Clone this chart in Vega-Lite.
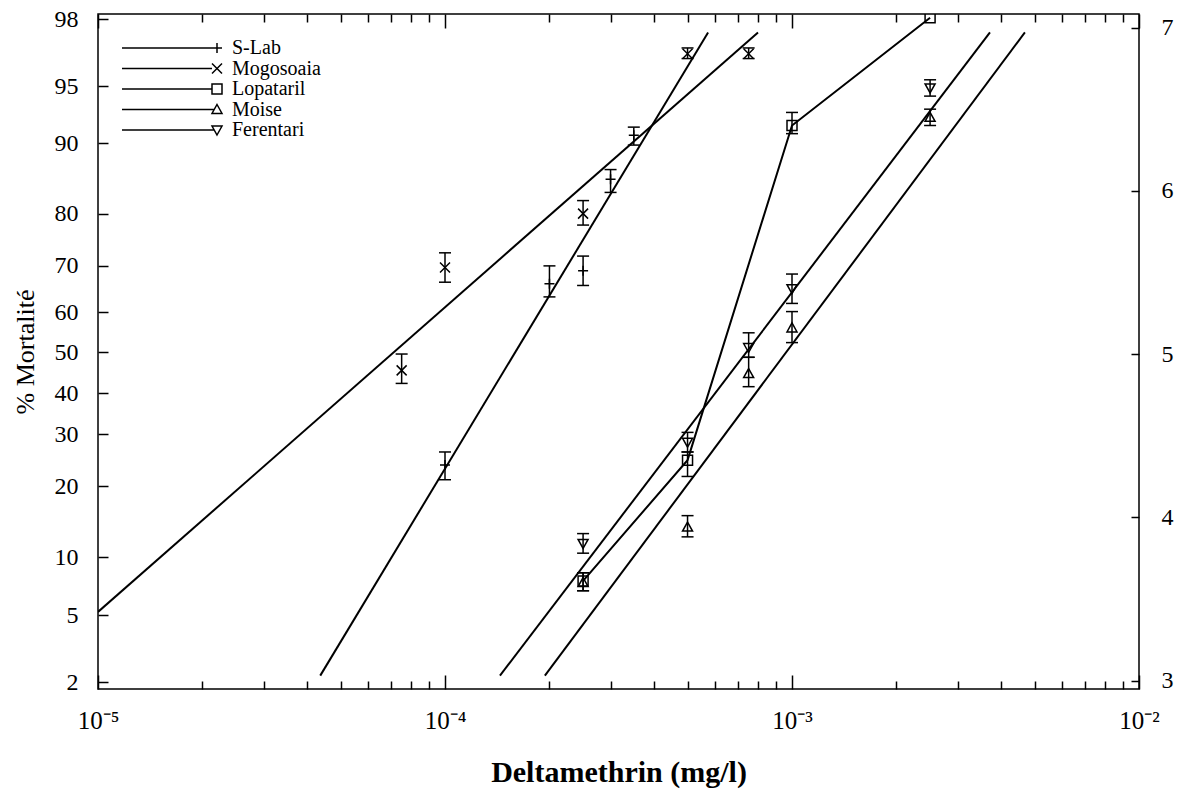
{
  "$schema": "https://vega.github.io/schema/vega-lite/v6.json",
  "width": 1041,
  "height": 675,
  "autosize": {"type": "none"},
  "padding": {"left": 98, "top": 14, "right": 39, "bottom": 103},
  "background": "white",
  "config": {
    "view": {"stroke": "black", "strokeWidth": 1.5},
    "font": "Liberation Serif",
    "axis": {"grid": false, "domain": false, "tickColor": "black", "tickWidth": 1.5, "labelColor": "black", "titleColor": "black", "labelFont": "Liberation Serif", "titleFont": "Liberation Serif"}
  },
  "datasets": {
    "pts": [
      {"series": "S-Lab", "conc": 0.0001, "probit": 4.32, "lo": 4.23, "hi": 4.40},
      {"series": "S-Lab", "conc": 0.0002, "probit": 5.43, "lo": 5.35, "hi": 5.54},
      {"series": "S-Lab", "conc": 0.00025, "probit": 5.51, "lo": 5.42, "hi": 5.60},
      {"series": "S-Lab", "conc": 0.0003, "probit": 6.07, "lo": 5.99, "hi": 6.13},
      {"series": "S-Lab", "conc": 0.00035, "probit": 6.34, "lo": 6.28, "hi": 6.39},
      {"series": "Mogosoaia", "conc": 0.000075, "probit": 4.90, "lo": 4.82, "hi": 5.00},
      {"series": "Mogosoaia", "conc": 0.0001, "probit": 5.53, "lo": 5.44, "hi": 5.62},
      {"series": "Mogosoaia", "conc": 0.00025, "probit": 5.86, "lo": 5.79, "hi": 5.94},
      {"series": "Mogosoaia", "conc": 0.0005, "probit": 6.84, "lo": 6.81, "hi": 6.875},
      {"series": "Mogosoaia", "conc": 0.00075, "probit": 6.84, "lo": 6.81, "hi": 6.875},
      {"series": "Lopataril", "conc": 0.00025, "probit": 3.61, "lo": 3.55, "hi": 3.66},
      {"series": "Lopataril", "conc": 0.0005, "probit": 4.35, "lo": 4.25, "hi": 4.40},
      {"series": "Lopataril", "conc": 0.001, "probit": 6.40, "lo": 6.35, "hi": 6.48},
      {"series": "Lopataril", "conc": 0.0025, "probit": 7.06, "lo": null, "hi": null},
      {"series": "Moise", "conc": 0.00025, "probit": 3.60, "lo": 3.55, "hi": 3.66},
      {"series": "Moise", "conc": 0.0005, "probit": 3.94, "lo": 3.88, "hi": 4.01},
      {"series": "Moise", "conc": 0.00075, "probit": 4.88, "lo": 4.80, "hi": 4.98},
      {"series": "Moise", "conc": 0.001, "probit": 5.16, "lo": 5.07, "hi": 5.26},
      {"series": "Moise", "conc": 0.0025, "probit": 6.45, "lo": 6.40, "hi": 6.50},
      {"series": "Ferentari", "conc": 0.00025, "probit": 3.84, "lo": 3.78, "hi": 3.90},
      {"series": "Ferentari", "conc": 0.0005, "probit": 4.46, "lo": 4.40, "hi": 4.52},
      {"series": "Ferentari", "conc": 0.00075, "probit": 5.04, "lo": 4.98, "hi": 5.13},
      {"series": "Ferentari", "conc": 0.001, "probit": 5.40, "lo": 5.31, "hi": 5.49},
      {"series": "Ferentari", "conc": 0.0025, "probit": 6.63, "lo": 6.58, "hi": 6.68}
    ],
    "lines": [
      {"series": "S-Lab", "conc": 0.0000437, "probit": 3.03},
      {"series": "S-Lab", "conc": 0.000573, "probit": 6.97},
      {"series": "Mogosoaia", "conc": 0.00001, "probit": 3.42},
      {"series": "Mogosoaia", "conc": 0.000798, "probit": 6.97},
      {"series": "Ferentari", "conc": 0.000144, "probit": 3.03},
      {"series": "Ferentari", "conc": 0.00372, "probit": 6.97},
      {"series": "Moise", "conc": 0.000194, "probit": 3.03},
      {"series": "Moise", "conc": 0.00469, "probit": 6.97},
      {"series": "Lopataril", "conc": 0.00025, "probit": 3.61},
      {"series": "Lopataril", "conc": 0.0005, "probit": 4.35},
      {"series": "Lopataril", "conc": 0.001, "probit": 6.40},
      {"series": "Lopataril", "conc": 0.0025, "probit": 7.06}
    ]
  },
  "resolve": {"axis": {"x": "independent", "y": "independent"}, "scale": {"shape": "independent"}},
  "layer": [
    {
      "data": {"name": "lines"},
      "mark": {"type": "line", "color": "black", "strokeWidth": 2, "clip": true},
      "encoding": {
        "x": {"field": "conc", "type": "quantitative",
          "scale": {"type": "log", "domain": [0.00001, 0.01], "nice": false},
          "axis": {"orient": "bottom", "values": [0.00001, 0.0001, 0.001, 0.01], "tickSize": -14, "labelPadding": 33,
            "labelExpr": "'10' + (datum.value == 0.00001 ? '⁻⁵' : datum.value == 0.0001 ? '⁻⁴' : datum.value == 0.001 ? '⁻³' : '⁻²')",
            "labelFontSize": 25, "labelFlush": false, "labelOverlap": false,
            "title": "Deltamethrin (mg/l)", "titleFontSize": 30, "titleFontWeight": "bold", "titlePadding": 24}},
        "y": {"field": "probit", "type": "quantitative",
          "scale": {"domain": [2.948, 7.083], "nice": false, "zero": false},
          "axis": {"orient": "left", "values": [2.99, 3.40, 3.756, 4.19, 4.51, 4.76, 5.01, 5.257, 5.54, 5.858, 6.29, 6.64, 7.05],
            "tickSize": -10, "labelPadding": 30, "labelFontSize": 24, "labelOverlap": false, "labelFlush": false,
            "labelExpr": "[2,5,10,20,30,40,50,60,70,80,90,95,98][indexof([2.99,3.40,3.756,4.19,4.51,4.76,5.01,5.257,5.54,5.858,6.29,6.64,7.05], datum.value)]",
            "title": "% Mortalité", "titleFontSize": 26, "titleFontWeight": "normal", "titlePadding": 16}},
        "detail": {"field": "series"},
        "order": {"field": "conc", "type": "quantitative"}
      }
    },
    {
      "data": {"name": "pts"},
      "mark": {"type": "rule", "color": "black", "strokeWidth": 1.5},
      "encoding": {
        "x": {"field": "conc", "type": "quantitative",
          "axis": {"orient": "bottom", "values": [0.00002, 0.00003, 0.00004, 0.00005, 0.00006, 0.00007, 0.00008, 0.00009, 0.0002, 0.0003, 0.0004, 0.0005, 0.0006, 0.0007, 0.0008, 0.0009, 0.002, 0.003, 0.004, 0.005, 0.006, 0.007, 0.008, 0.009],
            "tickSize": -8, "labels": false, "title": null}},
        "y": {"field": "lo", "type": "quantitative",
          "axis": {"orient": "right", "values": [3, 4, 5, 6, 7], "tickSize": -8, "labelPadding": 30, "labelFontSize": 24, "labelFlush": false, "title": null}},
        "y2": {"field": "hi"}
      }
    },
    {
      "data": {"name": "pts"},
      "mark": {"type": "point", "shape": "M-1,0H1", "size": 144, "strokeWidth": 1.5, "color": "black", "filled": false, "opacity": 1},
      "encoding": {
        "x": {"field": "conc", "type": "quantitative",
          "axis": {"orient": "top", "values": [0.00001, 0.0001, 0.001, 0.01], "tickSize": -14, "labels": false, "title": null}},
        "y": {"field": "lo", "type": "quantitative", "axis": null}
      }
    },
    {
      "data": {"name": "pts"},
      "mark": {"type": "point", "shape": "M-1,0H1", "size": 144, "strokeWidth": 1.5, "color": "black", "filled": false, "opacity": 1},
      "encoding": {
        "x": {"field": "conc", "type": "quantitative",
          "axis": {"orient": "top", "values": [0.00002, 0.00003, 0.00004, 0.00005, 0.00006, 0.00007, 0.00008, 0.00009, 0.0002, 0.0003, 0.0004, 0.0005, 0.0006, 0.0007, 0.0008, 0.0009, 0.002, 0.003, 0.004, 0.005, 0.006, 0.007, 0.008, 0.009],
            "tickSize": -8, "labels": false, "title": null}},
        "y": {"field": "hi", "type": "quantitative", "axis": null}
      }
    },
    {
      "data": {"name": "pts"},
      "mark": {"type": "point", "size": 100, "strokeWidth": 1.5, "color": "black", "filled": false, "opacity": 1, "clip": true},
      "encoding": {
        "x": {"field": "conc", "type": "quantitative", "axis": null},
        "y": {"field": "probit", "type": "quantitative", "axis": null},
        "shape": {"field": "series", "type": "nominal", "legend": null,
          "scale": {"domain": ["S-Lab", "Mogosoaia", "Lopataril", "Moise", "Ferentari"],
            "range": ["M-1,0H1M0,-1V1", "M-1,-1L1,1M-1,1L1,-1", "M-1,-1H1V1H-1Z", "M0,-1L1,0.8H-1Z", "M0,1L1,-0.8H-1Z"]}}
      }
    },
    {
      "data": {"name": "pts"},
      "mark": {"type": "point", "size": 100, "strokeWidth": 1.5, "color": "black", "filled": false, "opacity": 0},
      "encoding": {
        "x": {"field": "conc", "type": "quantitative", "axis": null},
        "y": {"field": "probit", "type": "quantitative", "axis": null},
        "shape": {"field": "series", "type": "nominal",
          "scale": {"domain": ["S-Lab", "Mogosoaia", "Lopataril", "Moise", "Ferentari"],
            "range": ["M-19,0H1M0,-1V1", "M-19,0H-1M-1,-1L1,1M-1,1L1,-1", "M-19,0H-1M-1,-1H1V1H-1Z", "M-19,0H-0.55M0,-1L1,0.8H-1Z", "M-19,0H-0.55M0,1L1,-0.8H-1Z"]},
          "legend": {"orient": "none", "legendX": 109, "legendY": 24, "title": null, "padding": 0,
            "labelFont": "Liberation Serif", "labelFontSize": 20, "labelColor": "black", "labelOffset": 5,
            "symbolSize": 100, "symbolStrokeColor": "black", "symbolStrokeWidth": 1.5, "symbolFillColor": "transparent", "symbolOpacity": 1,
            "rowPadding": 0.5}}
      }
    }
  ]
}
